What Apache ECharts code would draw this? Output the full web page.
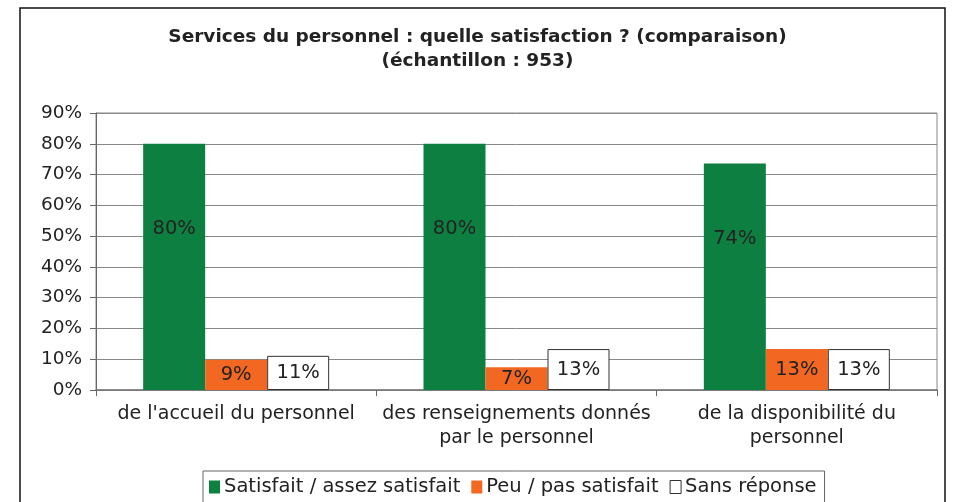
<!DOCTYPE html>
<html>
<head>
<meta charset="utf-8">
<script src="https://cdn.jsdelivr.net/npm/echarts@6/dist/echarts.min.js"></script>
<style>
  html, body { margin: 0; padding: 0; background: #fff; }
  #chart { width: 955px; height: 502px; }
</style>
</head>
<body>
<div id="chart"></div>
<script>
// categories (axis labels, wrapped as in the picture)
var categories = [
  "de l'accueil du personnel",
  'des renseignements donnés\npar le personnel',
  'de la disponibilité du\npersonnel'
];
var seriesNames = ['Satisfait / assez satisfait', 'Peu / pas satisfait', 'Sans réponse'];

// bar heights (%)
var satisfait = [80, 80, 73.6];
var peuSatisfait = [9.8, 7.4, 13.3];
var sansReponse = [11.1, 13.3, 13.3];

// labels as printed on the bars
var satisfaitLabels = ['80%', '80%', '74%'];
var peuLabels = ['9%', '7%', '13%'];
var sansLabels = ['11%', '13%', '13%'];

var yTicks = [0, 10, 20, 30, 40, 50, 60, 70, 80, 90];

var chart = echarts.init(document.getElementById('chart'));
var font = 'DejaVu Sans';

function labelOf(arr) {
  return function(p) { return arr[p.dataIndex]; };
}

var option = {
  animation: false,
  backgroundColor: '#fff',
  textStyle: { fontFamily: font },
  title: {
    text: 'Services du personnel : quelle satisfaction ? (comparaison)\n(échantillon : 953)',
    left: 'center',
    top: 20,
    textStyle: { fontFamily: font, fontSize: 18.5, fontWeight: 'bold', color: '#222', lineHeight: 24 }
  },
  graphic: [{
    type: 'rect',
    shape: { x: 20, y: 8, width: 925, height: 520 },
    style: { fill: 'none', stroke: '#111', lineWidth: 1.5 },
    silent: true
  }],
  legend: {
    data: [
      { name: seriesNames[0] },
      { name: seriesNames[1] },
      { name: seriesNames[2], itemStyle: { borderWidth: 1, borderColor: '#333' } }
    ],
    left: 203,
    top: 471,
    padding: [6, 8, 12, 6],
    itemGap: 11,
    itemWidth: 11,
    itemHeight: 13,
    icon: 'rect',
    borderColor: '#666',
    borderWidth: 1,
    textStyle: { fontFamily: font, fontSize: 19.5, color: '#222', padding: [0, 0, 0, -1] }
  },
  grid: {
    left: 96, right: 18, top: 113, bottom: 112,
    show: true, borderColor: '#888', borderWidth: 1
  },
  xAxis: {
    type: 'category',
    data: categories,
    axisLine: { lineStyle: { color: '#777', width: 1.5 } },
    axisTick: { show: true, length: 6, lineStyle: { color: '#666' } },
    axisLabel: { fontFamily: font, fontSize: 19, color: '#222', margin: 12, lineHeight: 24, interval: 0 }
  },
  yAxis: {
    type: 'value',
    min: 0,
    max: yTicks[yTicks.length - 1],
    interval: yTicks[1] - yTicks[0],
    axisLine: { show: true, lineStyle: { color: '#666' } },
    axisTick: { show: true, length: 6, lineStyle: { color: '#666' } },
    axisLabel: { fontFamily: font, fontSize: 18.5, color: '#222', margin: 14, formatter: '{value}%' },
    splitLine: { lineStyle: { color: '#888', width: 1 } }
  },
  series: [
    {
      name: seriesNames[0],
      type: 'bar',
      data: satisfait,
      barWidth: 62,
      barGap: '0%',
      itemStyle: { color: '#0c7f41' },
      label: {
        show: true, position: 'inside', offset: [0, -38],
        fontFamily: font, fontSize: 19.5, color: '#222',
        formatter: labelOf(satisfaitLabels)
      }
    },
    {
      name: seriesNames[1],
      type: 'bar',
      data: peuSatisfait,
      barWidth: 62,
      itemStyle: { color: '#f26822' },
      label: {
        show: true, position: 'inside',
        fontFamily: font, fontSize: 19.5, color: '#222',
        formatter: labelOf(peuLabels)
      }
    },
    {
      name: seriesNames[2],
      type: 'bar',
      data: sansReponse,
      barWidth: 62,
      itemStyle: { color: '#fff', borderColor: '#333', borderWidth: 1 },
      label: {
        show: true, position: 'inside',
        fontFamily: font, fontSize: 19.5, color: '#222',
        formatter: labelOf(sansLabels)
      }
    }
  ]
};

chart.setOption(option);
window.onresize = chart.resize;
</script>
</body>
</html>
